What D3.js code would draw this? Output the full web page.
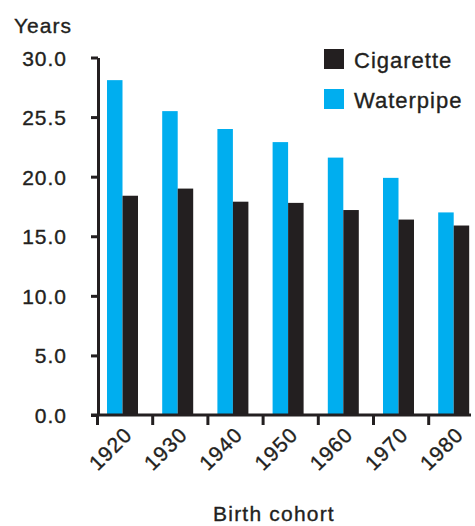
<!DOCTYPE html>
<html>
<head>
<meta charset="utf-8">
<script src="https://cdn.jsdelivr.net/npm/d3@7"></script>
<style>
  body { margin: 0; background: #fff; }
  svg { display: block; font-family: "Liberation Sans", Arial, sans-serif; }
  .tick-label, .axis-title, .legend-label {
    fill: #231f20; stroke: #231f20; stroke-width: 0.35px; letter-spacing: 1px;
  }
</style>
</head>
<body>
<div id="chart"></div>
<script>
const cohorts = ['1920', '1930', '1940', '1950', '1960', '1970', '1980'];
const seriesNames = ['Waterpipe', 'Cigarette'];
const waterpipe = [28.1, 25.5, 24.0, 22.9, 21.6, 19.9, 17.0];
const cigarette = [18.4, 19.0, 17.9, 17.8, 17.2, 16.4, 15.9];
const yTicks = [0, 5, 10, 15, 20, 25, 30];
const yTickLabels = ['0.0', '5.0', '10.0', '15.0', '20.0', '25.5', '30.0'];
const legendOrder = ['Cigarette', 'Waterpipe'];

const colors = { Waterpipe: '#00aeef', Cigarette: '#231f20' };
const ink = '#231f20';

const width = 475, height = 526;
const svg = d3.select('#chart').append('svg')
    .attr('width', width)
    .attr('height', height);

const x = d3.scaleBand()
    .domain(cohorts)
    .range([97, 97 + 7 * 55.2])
    .padding(0);

const xSub = d3.scaleBand()
    .domain(seriesNames)
    .range([10, 41])
    .padding(0);

const y = d3.scaleLinear()
    .domain([0, 30])
    .range([415, 57.5]);

const rows = cohorts.map((c, i) => ({ cohort: c, Waterpipe: waterpipe[i], Cigarette: cigarette[i] }));

// Bars
const groups = svg.append('g').selectAll('g')
    .data(rows)
    .join('g')
    .attr('transform', d => `translate(${x(d.cohort)},0)`);

groups.selectAll('rect')
    .data(d => seriesNames.map(s => ({ key: s, value: d[s] })))
    .join('rect')
    .attr('x', d => xSub(d.key))
    .attr('y', d => y(d.value))
    .attr('width', xSub.bandwidth())
    .attr('height', d => y(0) - y(d.value))
    .attr('fill', d => colors[d.key]);

// Y axis
const yAxis = svg.append('g')
    .attr('transform', 'translate(98,0)')
    .call(d3.axisLeft(y)
        .tickValues(yTicks)
        .tickSize(7)
        .tickSizeOuter(0)
        .tickFormat((d, i) => yTickLabels[i]));
yAxis.select('.domain').attr('stroke', ink).attr('stroke-width', 3);
yAxis.selectAll('.tick line').attr('stroke', ink).attr('stroke-width', 3);
yAxis.selectAll('.tick text')
    .attr('class', 'tick-label')
    .attr('x', -31)
    .attr('dy', '0.36em')
    .style('font-size', '21px');

// X axis, ticks at the left edge of each cohort band
const xTickPos = d3.scaleOrdinal(cohorts, cohorts.map(c => x(c)));
const xAxis = svg.append('g')
    .attr('transform', 'translate(0,415)')
    .call(d3.axisBottom(xTickPos)
        .tickSize(10)
        .tickSizeOuter(0));
xAxis.select('.domain').remove();
xAxis.append('line')
    .attr('x1', 91)
    .attr('x2', 471)
    .attr('stroke', ink)
    .attr('stroke-width', 3);
xAxis.selectAll('.tick line').attr('stroke', ink).attr('stroke-width', 3);
xAxis.selectAll('.tick text')
    .attr('class', 'tick-label')
    .attr('x', 0)
    .attr('y', 0)
    .attr('dy', 0)
    .attr('text-anchor', 'end')
    .attr('transform', 'translate(36,21) rotate(-45)')
    .style('font-size', '21px');

// Axis titles
svg.append('text')
    .attr('class', 'axis-title')
    .attr('x', 14)
    .attr('y', 33)
    .style('font-size', '21px')
    .text('Years');

svg.append('text')
    .attr('class', 'axis-title')
    .attr('x', 274)
    .attr('y', 521)
    .attr('text-anchor', 'middle')
    .style('font-size', '21px')
    .style('letter-spacing', '1.2px')
    .text('Birth cohort');

// Legend
const legend = svg.append('g')
    .attr('transform', 'translate(324,49)');
const items = legend.selectAll('g')
    .data(legendOrder)
    .join('g')
    .attr('transform', (d, i) => `translate(0,${i * 40})`);
items.append('rect')
    .attr('width', 20)
    .attr('height', 20)
    .attr('fill', d => colors[d]);
items.append('text')
    .attr('class', 'legend-label')
    .attr('x', 30)
    .attr('y', 19)
    .style('font-size', '22px')
    .text(d => d);
</script>
</body>
</html>
